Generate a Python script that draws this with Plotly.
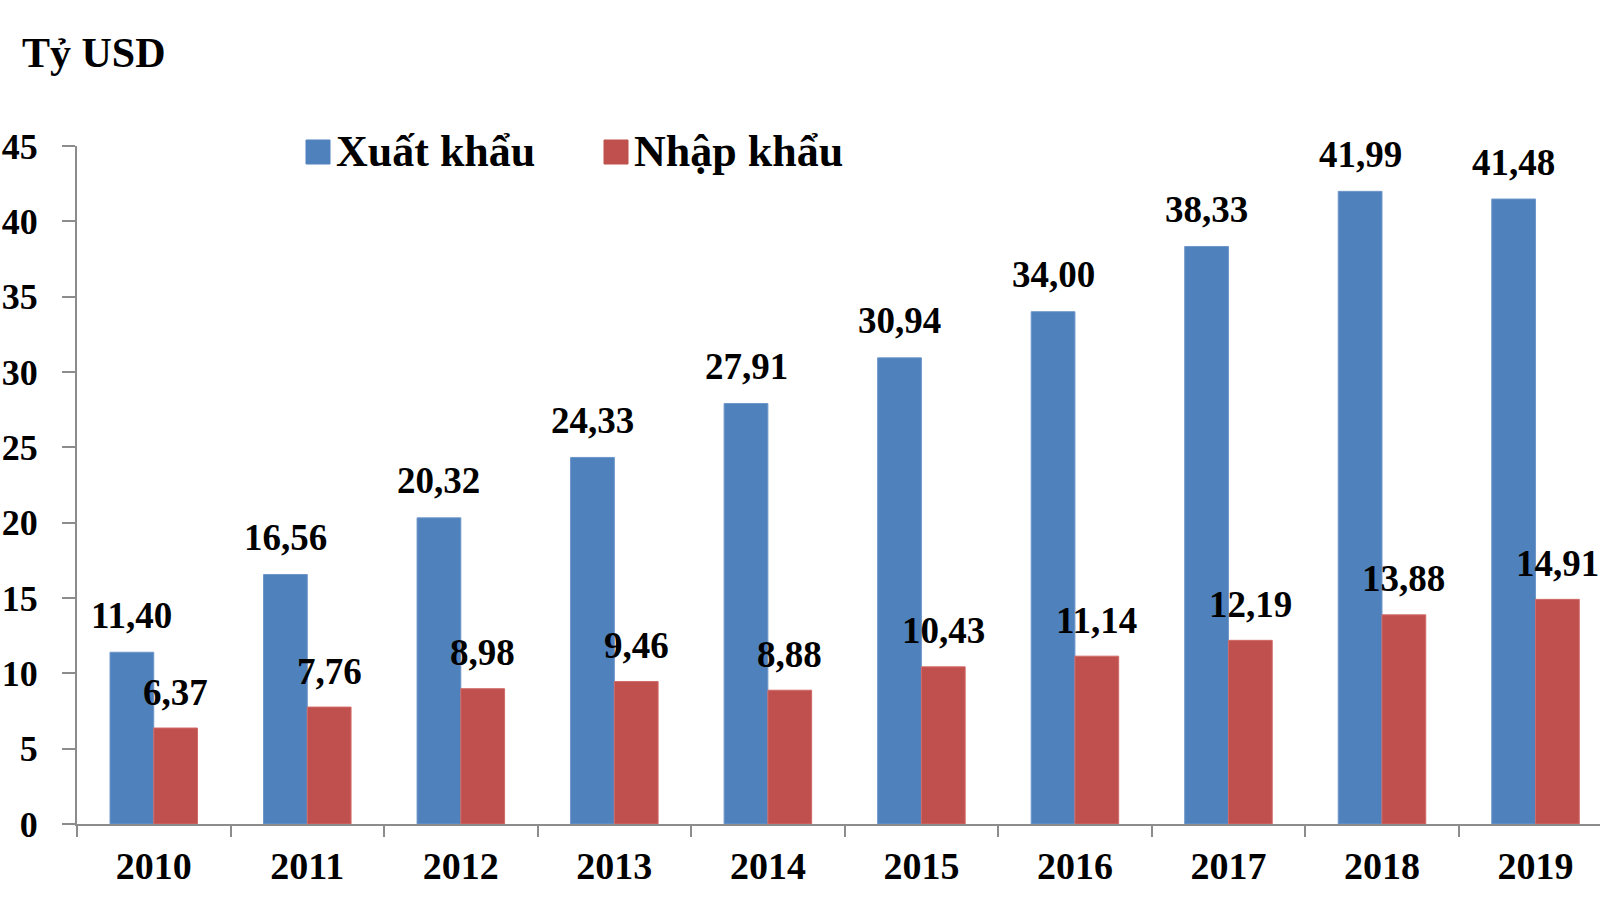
import plotly.graph_objects as go

years = ["2010", "2011", "2012", "2013", "2014", "2015", "2016", "2017", "2018", "2019"]
xuat_khau = [11.40, 16.56, 20.32, 24.33, 27.91, 30.94, 34.00, 38.33, 41.99, 41.48]
nhap_khau = [6.37, 7.76, 8.98, 9.46, 8.88, 10.43, 11.14, 12.19, 13.88, 14.91]
y_ticks = [0, 5, 10, 15, 20, 25, 30, 35, 40, 45]
series_names = ["Xuất khẩu", "Nhập khẩu"]
unit_title = "Tỷ USD"

BLUE = "#4F81BD"
RED = "#C0504D"
AXIS = "#8C8C8C"
FONT = "Liberation Serif, Times New Roman, serif"

W, H = 1600, 913
ML, MR, MT, MB = 77, 0, 146, 89
PW = W - ML - MR
PH = H - MT - MB


def fmt(v):
    return f"{v:.2f}".replace(".", ",")


fig = go.Figure()
fig.add_trace(go.Bar(x=years, y=xuat_khau, name=series_names[0],
                     marker=dict(color=BLUE, line=dict(color="#6E97CA", width=1)), showlegend=False))
fig.add_trace(go.Bar(x=years, y=nhap_khau, name=series_names[1],
                     marker=dict(color=RED, line=dict(color="#D06A67", width=1)), showlegend=False))

x_end = 9.42
cat_px = PW / (x_end + 0.5)
bargap = 0.43
half_bar = cat_px * (1 - bargap) / 4

annotations = []
for i, v in enumerate(xuat_khau):
    annotations.append(dict(x=i, y=v, xref="x", yref="y", text=fmt(v), showarrow=False,
                            xshift=-half_bar, yshift=37, yanchor="middle", xanchor="center",
                            font=dict(family=FONT, size=37, color="black", weight="bold")))
for i, v in enumerate(nhap_khau):
    annotations.append(dict(x=i, y=v, xref="x", yref="y", text=fmt(v), showarrow=False,
                            xshift=half_bar, yshift=36, yanchor="middle", xanchor="center",
                            font=dict(family=FONT, size=37, color="black", weight="bold")))


def px_x(p):
    return (p - ML) / PW


def px_y(p):
    return (H - MB - p) / PH


# title
annotations.append(dict(x=px_x(20), y=px_y(53), xref="paper", yref="paper", text=unit_title,
                        showarrow=False, xanchor="left", yanchor="middle",
                        font=dict(family=FONT, size=42, color="black", weight="bold")))

# custom legend
shapes = []
legend_items = [(306, BLUE, series_names[0]), (604, RED, series_names[1])]
for lx, col, name in legend_items:
    shapes.append(dict(type="rect", xref="paper", yref="paper", x0=px_x(lx), x1=px_x(lx + 24),
                       y0=px_y(164), y1=px_y(140), fillcolor=col, line=dict(color=col, width=1)))
    annotations.append(dict(x=px_x(lx + 28), y=px_y(151), xref="paper", yref="paper", text=name,
                            showarrow=False, xanchor="left", yanchor="middle",
                            font=dict(family=FONT, size=44, color="black", weight="bold")))

fig.update_layout(
    width=W, height=H,
    margin=dict(l=ML, r=MR, t=MT, b=MB, pad=0),
    paper_bgcolor="white", plot_bgcolor="white",
    barmode="group", bargap=bargap, bargroupgap=0,
    showlegend=False,
    annotations=annotations,
    shapes=shapes,
    xaxis=dict(type="category", range=[-0.5, x_end], showgrid=False, showline=True, linecolor=AXIS, linewidth=2,
               ticks="outside", tickson="boundaries", ticklen=11, tickwidth=2, tickcolor=AXIS,
               tickfont=dict(family=FONT, size=38, color="black", weight="bold"), ticklabelstandoff=7),
    yaxis=dict(range=[0, 45], tickvals=y_ticks, showgrid=False, zeroline=False, showline=True, linecolor=AXIS,
               linewidth=2, ticks="outside", ticklen=13, tickwidth=2, tickcolor=AXIS,
               tickfont=dict(family=FONT, size=36, color="black", weight="bold"), ticklabelstandoff=17),
)

fig.write_html("out.html", config={"displayModeBar": False},
               post_script="document.body.style.margin='0px';")
